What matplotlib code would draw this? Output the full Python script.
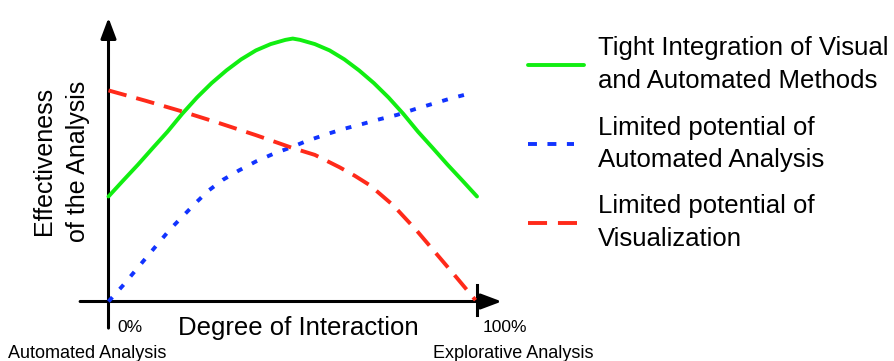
import matplotlib.pyplot as plt
from matplotlib.lines import Line2D

plt.rcParams['font.family'] = ['Liberation Sans', 'DejaVu Sans']

# degree of interaction (%) -> effectiveness (0..100)
green_x = [0, 4, 8, 12, 16, 20, 24, 28, 32, 36, 40, 44, 48, 50,
           52, 56, 60, 64, 68, 72, 76, 80, 84, 88, 92, 96, 100]
green_y = [39.9, 46.0, 52.0, 58.3, 64.5, 71.3, 77.5, 83.0, 87.8, 92.0, 95.4, 97.8, 99.4, 99.9,
           99.4, 97.8, 95.4, 92.0, 87.8, 83.0, 77.5, 71.3, 64.5, 58.3, 52.0, 46.0, 39.9]

blue_x = [0, 3.8, 10.2, 16.7, 23.7, 27.1, 31, 35.4, 40, 44.9, 49.8, 53.8,
          59.3, 63.6, 68.8, 73.7, 78.3, 83.2, 88.2, 93, 98.5]
blue_y = [0, 5.9, 16.6, 27.4, 37.5, 42.1, 46.2, 49.8, 53.2, 56.2, 58.7, 61.0,
          63.6, 65.5, 67.4, 69.3, 70.9, 73.1, 75.2, 77.2, 79.2]

red_x = [0, 10, 20, 30, 40, 50, 56, 62.7, 66.8, 71.0, 77.3, 83.6, 89.0, 94.4, 99.6]
red_y = [80.2, 76.3, 72.2, 67.8, 63.2, 58.3, 55.7, 51.0, 47.8, 44.1, 36.5, 27.0, 18.1, 9.2, 0.5]

labels = ['Tight Integration of Visual\nand Automated Methods',
          'Limited potential of\nAutomated Analysis',
          'Limited potential of\nVisualization']

W, H = 894, 361
fig = plt.figure(figsize=(W / 100, H / 100), dpi=100)

def px(x, y):
    # pixel (from top-left) to figure fraction
    return x / W, 1 - y / H

x0, x1, yb, yt = 108.5, 477, 301.5, 38.3
ax = fig.add_axes([x0 / W, 1 - yb / H, (x1 - x0) / W, (yb - yt) / H])
ax.set_xlim(0, 100)
ax.set_ylim(0, 100)
ax.axis('off')

green_style = dict(color='#11ee11', lw=2.8, solid_capstyle='round', solid_joinstyle='round')
blue_style = dict(color='#1133ff', lw=2.8, dashes=(1.5, 2.8))
red_style = dict(color='#ff2a1a', lw=2.8, dashes=(4.8, 2.6))

ax.plot(green_x, green_y, clip_on=False, zorder=3, **green_style)
ax.plot(blue_x, blue_y, clip_on=False, zorder=3, **blue_style)
ax.plot(red_x, red_y, clip_on=False, zorder=3, **red_style)

# axes with arrow heads
arrow = dict(arrowstyle='-|>,head_length=1.25,head_width=0.47', lw=2.2,
             color='k', shrinkA=0, shrinkB=0, mutation_scale=10)
ax.annotate('', xy=(0, 107.8), xytext=(0, -10.1), arrowprops=arrow,
            annotation_clip=False, zorder=2)
ax.annotate('', xy=(106.7, 0), xytext=(-7.7, 0), arrowprops=arrow,
            annotation_clip=False, zorder=2)
ax.plot([100, 100], [6.3, -5.1], color='k', lw=2.2, clip_on=False, zorder=2)

# axis texts
fig.text(*px(117, 327), '0%', fontsize=12.5, va='center', ha='left')
fig.text(*px(483, 327), '100%', fontsize=12.5, va='center', ha='left')
fig.text(*px(178, 328), 'Degree of Interaction', fontsize=18.5, va='center', ha='left')
fig.text(*px(8, 353), 'Automated Analysis', fontsize=13, va='center', ha='left')
fig.text(*px(433, 353), 'Explorative Analysis', fontsize=13, va='center', ha='left')
fig.text(*px(61, 161), 'Effectiveness\nof the Analysis', fontsize=18, rotation=90,
         va='center', ha='center', multialignment='center', linespacing=1.5)

# legend, drawn by hand
leg_styles = [green_style,
              dict(blue_style, dashes=(2.3, 2.7)),
              dict(red_style, dashes=(4.9, 2.8))]
leg_y = [64.5, 144, 222.5]
leg_end = [584, 574, 578]
for lab, st, y, xe in zip(labels, leg_styles, leg_y, leg_end):
    (lx0, ly), (lx1, _) = px(528, y), px(xe, y)
    fig.add_artist(Line2D([lx0, lx1], [ly, ly], **st))
    fig.text(*px(598, y), lab, fontsize=18.5, va='center', ha='left', linespacing=1.47)

fig.savefig('out.png', dpi=100)
